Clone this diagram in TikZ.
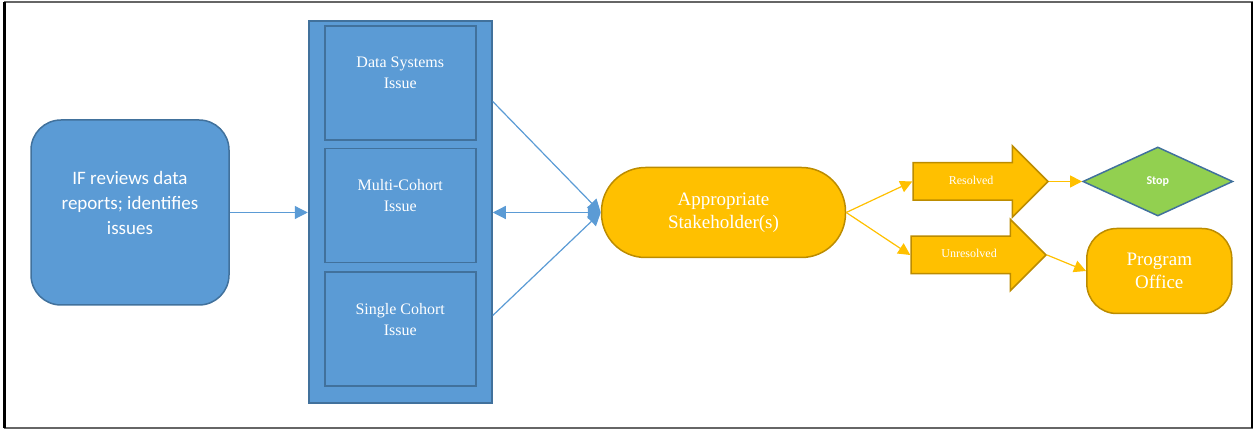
\documentclass[tikz,border=0pt]{standalone}
\usepackage{fontspec}
\setmainfont{Liberation Serif}
\newfontfamily\calibri{Carlito}
\usetikzlibrary{shapes, arrows.meta, positioning, calc}

\definecolor{fillblue}{HTML}{5B9BD5}
\definecolor{edgeblue}{HTML}{41719C}
\definecolor{gold}{HTML}{FFC000}
\definecolor{edgegold}{HTML}{BC8C00}
\definecolor{leaf}{HTML}{92D050}

\begin{document}
\begin{tikzpicture}[x=1pt, y=1pt,
    box/.style={draw=edgeblue, fill=fillblue, line width=1.5pt, rounded corners=30pt, minimum width=198pt, minimum height=185pt},
    panel/.style={draw=edgeblue, fill=fillblue, line width=2pt, minimum width=183pt, minimum height=382pt},
    issue/.style={draw=edgeblue, fill=fillblue, line width=1.5pt, minimum width=151pt, minimum height=114pt},
    caption/.style={text=white, align=center, font=\fontsize{16}{21}\selectfont, yshift=10pt},
    pill/.style={draw=edgegold, fill=gold, line width=1.5pt, text=white, align=center, font=\fontsize{19}{23}\selectfont},
    flag/.style={single arrow, draw=edgegold, fill=gold, line width=1.5pt, text=white, font=\fontsize{12}{14}\selectfont,
      single arrow head extend=17pt, single arrow tip angle=90, minimum height=135pt, text height=8pt, text depth=2pt, inner ysep=13pt},
    decision/.style={diamond, draw=edgeblue, fill=leaf, line width=1.5pt, text=white, font=\calibri\bfseries\fontsize{12}{14}\selectfont,
      minimum width=150pt, minimum height=69pt, inner sep=0pt},
    blueline/.style={draw=fillblue, line width=1.2pt, -{Triangle[length=13pt, width=13pt]}},
    goldline/.style={draw=gold, line width=1.2pt, -{Triangle[length=12pt, width=12pt]}}
  ]
    \useasboundingbox (0,0) rectangle (1254,430);
    % frame
    \draw[black!60, line width=1.2pt] (4.5,2) rectangle (1252,428);
    \draw[black, line width=2.5pt] (4.5,2) -- (4.5,428) (1252,2) -- (1252,428);

    \node[box, label={[caption, font=\calibri\fontsize{19}{25}\selectfont]center:{IF reviews data\\reports; identifies\\issues}}] (report) at (130,217.5) {};
    \node[panel, right=78pt of report] (panel) {};
    \node[issue, below=5pt of panel.north, label={[caption]center:{Data Systems\\Issue}}] (ds) {};
    \node[issue, below=7pt of ds, label={[caption]center:{Multi-Cohort\\Issue}}] (mc) {};
    \node[issue, below=8pt of mc, label={[caption]center:{Single Cohort\\Issue}}] (sc) {};

    \node[pill, rounded corners=44pt, minimum width=244pt, minimum height=90pt, right=108pt of panel] (stake) {Appropriate\\Stakeholder(s)};
    \node[flag, anchor=tail] (res) at ($(stake.east)+(66,31)$) {Resolved};
    \node[flag, anchor=tail] (unres) at ($(stake.east)+(64,-42.5)$) {Unresolved};
    \node[decision, right=33pt of res.tip] (stop) {Stop};
    \node[pill, rounded corners=30pt, minimum width=145pt, minimum height=85pt, right=39pt of unres.tip, yshift=-16pt] (prog) {Program\\Office};

    \draw[blueline] (report.east) -- (panel.west);
    \draw[blueline] ($(panel.east)+(0,111)$) -- (stake.west);
    \draw[blueline, {Triangle[length=13pt, width=13pt]}-{Triangle[length=13pt, width=13pt]}] (panel.east) -- (stake.west);
    \draw[blueline] ($(panel.east)+(0,-103)$) -- (stake.west);
    \draw[goldline] (stake.east) -- (res.tail);
    \draw[goldline] (stake.east) -- (unres.tail);
    \draw[goldline] (res.tip) -- (stop.west);
    \draw[goldline] (unres.tip) -- (prog.west);
  \end{tikzpicture}
\end{document}
